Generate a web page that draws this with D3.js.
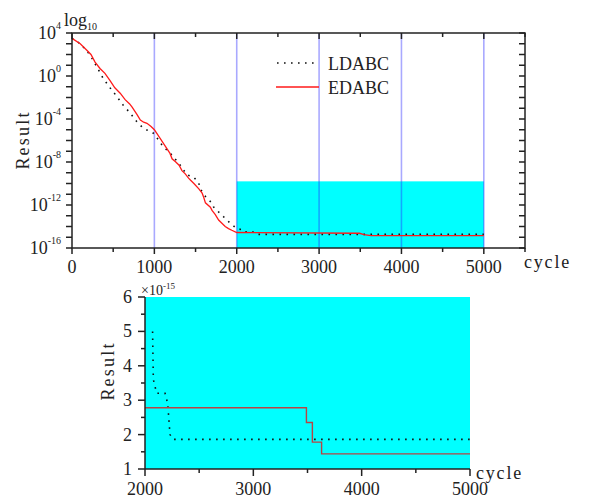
<!DOCTYPE html>
<html>
<head>
<meta charset="utf-8">
<script src="https://cdn.jsdelivr.net/npm/d3@7"></script>
<style>
  body { margin: 0; background: #fff; }
  text { font-family: "Liberation Serif", "Times New Roman", serif; fill: #222; }
</style>
</head>
<body>
<script>
// Convergence of LDABC vs EDABC, full run (log10 exponents) and tail detail (x1e-15)
var ldabcCycle = [0, 100, 160, 220, 300, 377, 462, 544, 620, 706, 787, 864, 930, 970, 1000,
                  1100, 1213, 1314, 1395, 1476, 1537, 1557, 1638, 1699, 1720, 1800, 1861, 1922, 2000];
var ldabcExp   = [3.5, 3.0, 2.5, 1.95, 0.87, -0.2, -1.1, -1.9, -2.7, -3.45, -4.25, -4.85, -5.1, -5.2, -5.4,
                  -6.5, -7.35, -8.3, -9.2, -9.4, -9.9, -10.5, -11.4, -11.8, -12.2, -12.8, -13.25, -13.7, -14.2];
var edabcCycle = [0, 100, 180, 230, 280, 340, 400, 460, 520, 585, 645, 700, 730, 790, 830, 870, 910, 960,
                  1000, 1070, 1130, 1190, 1215, 1260, 1300, 1335, 1375, 1415, 1440, 1480, 1540, 1580,
                  1600, 1620, 1680, 1700, 1740, 1780, 1820, 1860, 1900, 1940];
var edabcExp   = [3.5, 3.0, 2.4, 2.0, 1.3, 0.7, 0.25, -0.4, -1.1, -1.6, -2.2, -2.6, -2.9, -3.6, -4.1, -4.3, -4.4, -4.7,
                  -5.0, -5.8, -6.5, -7.2, -7.7, -8.0, -8.3, -8.8, -9.1, -9.5, -9.7, -10.0, -10.5, -10.9,
                  -11.3, -11.8, -12.2, -12.5, -12.9, -13.4, -13.7, -14.0, -14.2, -14.35];

// tail after cycle 2000, in units of 1e-15
var tailLdCycle = [2070, 2077, 2108, 2185, 2210, 2231, 2261, 5000];
var tailLdValue = [5.0, 3.6, 3.2, 3.2, 2.9, 2.0, 1.86, 1.86];
var tailEdCycle = [2000, 3490, 3545, 3630, 5000];
var tailEdValue = [2.78, 2.35, 1.78, 1.44, 1.44];

var guideCycles = [1000, 2000, 3000, 4000, 5000];
var boxCycles = [2000, 5000], boxExp = [-16, -9.8];
var topXTicks = [0, 1000, 2000, 3000, 4000, 5000];
var topYTicks = [4, 0, -4, -8, -12, -16];
var botXTicks = [2000, 3000, 4000, 5000];
var botYTicks = [1, 2, 3, 4, 5, 6];
var seriesNames = ["LDABC", "EDABC"];

var W = 589, H = 500;
var svg = d3.select("body").append("svg").attr("width", W).attr("height", H);

function zip(xs, ys) { return xs.map(function(x, i) { return {x: x, y: ys[i]}; }); }

// ---------- upper panel ----------
var up = {left: 72, top: 33, width: 453, height: 215};
var gt = svg.append("g").attr("transform", "translate(" + up.left + "," + up.top + ")");
var xT = d3.scaleLinear().domain([0, 5500]).range([0, up.width]);
var yT = d3.scaleLinear().domain([-16, 4]).range([up.height, 0]);

var ldTop = zip(ldabcCycle, ldabcExp).concat(zip(tailLdCycle, tailLdValue.map(function(v) { return Math.log10(v) - 15; })));
var edTop = zip(edabcCycle, edabcExp).concat(zip(tailEdCycle, tailEdValue.map(function(v) { return Math.log10(v) - 15; })));

gt.append("rect")
  .attr("x", xT(boxCycles[0])).attr("width", xT(boxCycles[1]) - xT(boxCycles[0]))
  .attr("y", yT(boxExp[1])).attr("height", yT(boxExp[0]) - yT(boxExp[1]))
  .attr("fill", "#00ffff");

gt.selectAll(".guide").data(guideCycles).enter().append("line")
  .attr("x1", function(d) { return xT(d); }).attr("x2", function(d) { return xT(d); })
  .attr("y1", 0).attr("y2", up.height)
  .attr("stroke", "rgba(40,40,255,0.4)").attr("stroke-width", 1.6);

var lineTop = d3.line().x(function(d) { return xT(d.x); }).y(function(d) { return yT(d.y); });
gt.append("path").datum(ldTop).attr("d", lineTop).attr("fill", "none")
  .attr("stroke", "#111").attr("stroke-width", 1.6).attr("stroke-dasharray", "1.6,5.4");
gt.append("path").datum(edTop).attr("d", lineTop).attr("fill", "none")
  .attr("stroke", "#ff1a1a").attr("stroke-width", 1.3);

// frame with mirrored ticks
gt.append("rect").attr("width", up.width).attr("height", up.height)
  .attr("fill", "none").attr("stroke", "#222").attr("stroke-width", 1.5);

var xMinor = d3.range(0, 5501, 500);
function tickLen(d) { return d % 1000 === 0 ? 6 : 4; }
gt.selectAll(".tb").data(xMinor).enter().append("line")
  .attr("x1", function(d) { return xT(d); }).attr("x2", function(d) { return xT(d); })
  .attr("y1", up.height).attr("y2", function(d) { return up.height + tickLen(d); })
  .attr("stroke", "#222").attr("stroke-width", 1.5);
gt.selectAll(".tt").data(xMinor).enter().append("line")
  .attr("x1", function(d) { return xT(d); }).attr("x2", function(d) { return xT(d); })
  .attr("y1", 0).attr("y2", function(d) { return tickLen(d); })
  .attr("stroke", "#222").attr("stroke-width", 1.5);

var yMinor = d3.range(-16, 5, 1);
gt.selectAll(".tl").data(yMinor).enter().append("line")
  .attr("x1", 0).attr("x2", -6)
  .attr("y1", function(d) { return yT(d); }).attr("y2", function(d) { return yT(d); })
  .attr("stroke", "#222").attr("stroke-width", 1.5);
gt.selectAll(".tr").data(yMinor).enter().append("line")
  .attr("x1", up.width).attr("x2", up.width - 6)
  .attr("y1", function(d) { return yT(d); }).attr("y2", function(d) { return yT(d); })
  .attr("stroke", "#222").attr("stroke-width", 1.5);

gt.selectAll(".xl").data(topXTicks).enter().append("text")
  .attr("x", function(d) { return xT(d); }).attr("y", up.height + 25)
  .attr("text-anchor", "middle").attr("font-size", 18).text(function(d) { return d; });

gt.selectAll(".yl").data(topYTicks).enter().append("text")
  .attr("x", -11).attr("y", function(d) { return yT(d) + 6; })
  .attr("text-anchor", "end").attr("font-size", 18)
  .each(function(d) {
    var t = d3.select(this);
    t.append("tspan").text("10");
    t.append("tspan").attr("font-size", 10).attr("dy", -10).text(d < 0 ? "-" + (-d) : d);
  });

var lg = svg.append("text").attr("x", 64).attr("y", 26).attr("font-size", 18);
lg.append("tspan").text("log");
lg.append("tspan").attr("font-size", 10).attr("dy", 4).text("10");

svg.append("text").attr("transform", "translate(29,140) rotate(-90)")
  .attr("text-anchor", "middle").attr("font-size", 18).attr("letter-spacing", 2.2).text("Result");
svg.append("text").attr("x", 524).attr("y", 268).attr("font-size", 18)
  .attr("letter-spacing", 1.8).text("cycle");

// legend
var leg = svg.append("g");
leg.append("line").attr("x1", 277).attr("x2", 319).attr("y1", 63).attr("y2", 63)
  .attr("stroke", "#111").attr("stroke-width", 1.6).attr("stroke-dasharray", "1.6,5.4");
leg.append("line").attr("x1", 276).attr("x2", 319).attr("y1", 87).attr("y2", 87)
  .attr("stroke", "#ff1a1a").attr("stroke-width", 1.3);
leg.selectAll("text").data(seriesNames).enter().append("text")
  .attr("x", 328).attr("y", function(d, i) { return 70 + i * 24; })
  .attr("font-size", 18).text(function(d) { return d; });

// ---------- lower panel: detail ----------
var bot = {left: 145, top: 297, width: 325, height: 172};
var gb = svg.append("g").attr("transform", "translate(" + bot.left + "," + bot.top + ")");
var xB = d3.scaleLinear().domain([2000, 5000]).range([0, bot.width]);
var yB = d3.scaleLinear().domain([1, 6]).range([bot.height, 0]);

gb.append("rect").attr("width", bot.width).attr("height", bot.height).attr("fill", "#00ffff");

var lineBot = d3.line().x(function(d) { return xB(d.x); }).y(function(d) { return yB(d.y); });
gb.append("path").datum(zip(tailLdCycle, tailLdValue)).attr("d", lineBot).attr("fill", "none")
  .attr("stroke", "#111").attr("stroke-width", 1.6).attr("stroke-dasharray", "1.6,5.4");
gb.append("path").datum(zip(tailEdCycle, tailEdValue))
  .attr("d", d3.line().curve(d3.curveStepAfter).x(function(d) { return xB(d.x); }).y(function(d) { return yB(d.y); }))
  .attr("fill", "none").attr("stroke", "#b84444").attr("stroke-width", 1.4);

gb.append("line").attr("x1", 0).attr("x2", 0).attr("y1", 0).attr("y2", bot.height)
  .attr("stroke", "#222").attr("stroke-width", 1.5);
gb.append("line").attr("x1", 0).attr("x2", bot.width).attr("y1", bot.height).attr("y2", bot.height)
  .attr("stroke", "#222").attr("stroke-width", 1.5);

gb.selectAll(".bx").data(d3.range(2000, 5001, 500)).enter().append("line")
  .attr("x1", function(d) { return xB(d); }).attr("x2", function(d) { return xB(d); })
  .attr("y1", bot.height).attr("y2", function(d) { return bot.height + (d % 1000 === 0 ? 7 : 4); })
  .attr("stroke", "#222").attr("stroke-width", 1.5);
gb.selectAll(".by").data(d3.range(1, 6.01, 0.5)).enter().append("line")
  .attr("x1", 0).attr("x2", function(d) { return d % 1 === 0 ? -7 : -4; })
  .attr("y1", function(d) { return yB(d); }).attr("y2", function(d) { return yB(d); })
  .attr("stroke", "#222").attr("stroke-width", 1.5);

gb.selectAll(".bxl").data(botXTicks).enter().append("text")
  .attr("x", function(d) { return xB(d); }).attr("y", bot.height + 26)
  .attr("text-anchor", "middle").attr("font-size", 18).text(function(d) { return d; });
gb.selectAll(".byl").data(botYTicks).enter().append("text")
  .attr("x", -13).attr("y", function(d) { return yB(d) + 6; })
  .attr("text-anchor", "end").attr("font-size", 18).text(function(d) { return d; });

var ex = svg.append("text").attr("x", 141).attr("y", 295).attr("font-size", 14);
ex.append("tspan").text("\u00d710");
ex.append("tspan").attr("font-size", 9).attr("dy", -6).text("-15");

svg.append("text").attr("transform", "translate(114,371) rotate(-90)")
  .attr("text-anchor", "middle").attr("font-size", 18).attr("letter-spacing", 2.2).text("Result");
svg.append("text").attr("x", 476).attr("y", 479).attr("font-size", 18)
  .attr("letter-spacing", 1.8).text("cycle");
</script>
</body>
</html>
